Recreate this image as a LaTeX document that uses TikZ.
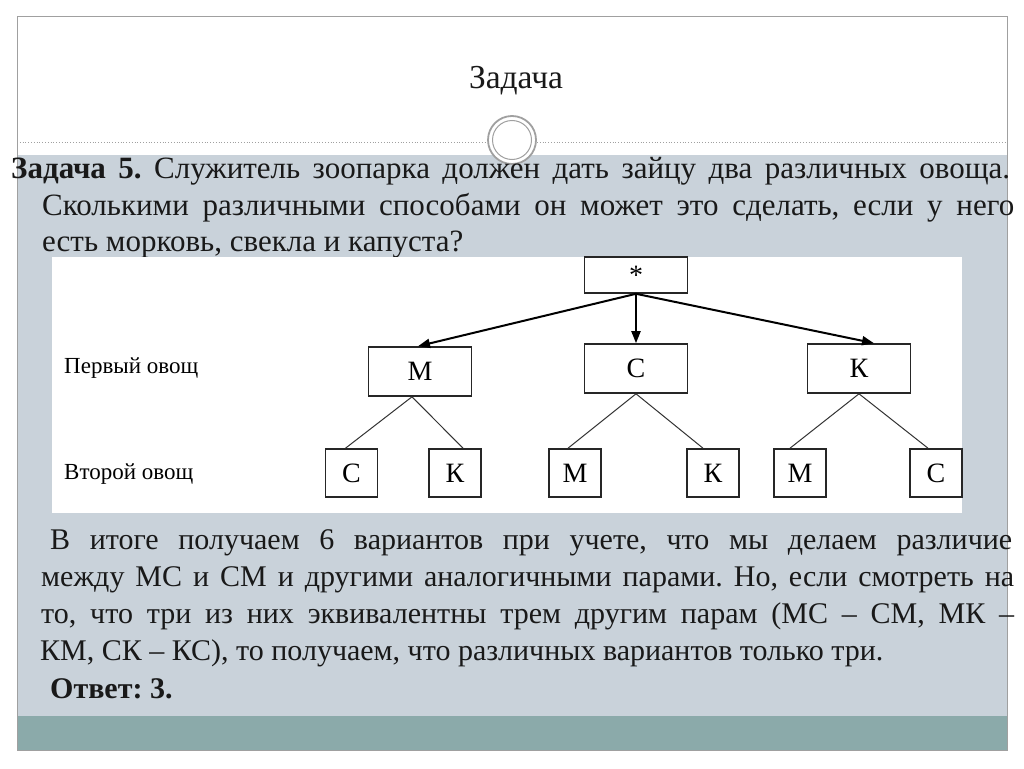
\documentclass[tikz,border=0pt]{standalone}
\usepackage{fontspec}
\setmainfont{Liberation Serif}
\usetikzlibrary{arrows.meta}
\definecolor{bodycol}{RGB}{201,210,218}
\definecolor{bandcol}{RGB}{139,170,170}
\definecolor{framecol}{RGB}{160,160,160}
\definecolor{inkcol}{RGB}{25,25,25}
\frenchspacing
\begin{document}
\frenchspacing
\begin{tikzpicture}[x=1pt,y=-1pt,
  txt/.style={anchor=base west, inner sep=0pt, text=inkcol, font=\fontsize{30}{36}\selectfont\frenchspacing},
  ttxt/.style={txt, font=\fontsize{31}{36}\selectfont\frenchspacing},
  box/.style={draw=black!85, line width=1.6pt, fill=white, minimum width=103pt, minimum height=49pt, font=\fontsize{28}{30}\selectfont, inner sep=0pt},
  sbox/.style={box, minimum width=52pt, minimum height=48pt},
  arr/.style={line width=2pt, -{Triangle[length=12pt,width=9pt]}},
  br/.style={line width=1pt, draw=black!80},
  lbl/.style={anchor=base west, inner sep=0pt, font=\fontsize{23}{26}\selectfont}]
\fill[white] (0,0) rectangle (1024,768);
\useasboundingbox (0,0) rectangle (1024,768);
% slide
\fill[bodycol] (17,155) rectangle (1007,716);
\fill[bandcol] (17,716) rectangle (1007,750);
\draw[framecol, line width=1pt] (17,17) rectangle (1007,750);
\draw[framecol, dotted, line width=0.8pt] (17,142) -- (487,142);
\draw[framecol, dotted, line width=0.8pt] (537,142) -- (1007,142);
\draw[framecol, line width=1.8pt, fill=white] (512,140) circle[radius=24pt];
\draw[framecol, line width=1pt] (512,140) circle[radius=19.5pt];
% title
\node[anchor=base, inner sep=0pt, text=inkcol, font=\fontsize{33.5}{38}\selectfont] (title) at (516,88) {Задача};
% task
\node[ttxt] (t1) at (11,178) {\makebox[999pt][s]{\textbf{Задача 5.} Служитель зоопарка должен дать зайцу два различных овоща.}};
\node[ttxt] (t2) at (42,215) {\makebox[972pt][s]{Сколькими различными способами он может это сделать, если у него}};
\node[ttxt] (t3) at (42,251) {есть морковь, свекла и капуста?};
% diagram
\fill[white] (52,257) rectangle (962,513);
\node[box, minimum height=36pt] (root) at (636,275) {*};
\node[box] (m) at (420,371.5) {М};
\node[box] (c) at (636,368.5) {С};
\node[box] (k) at (859,368.5) {К};
\node[sbox] (c1) at (351.5,473) {С};
\node[sbox] (k1) at (455,473) {К};
\node[sbox] (m2) at (575,473) {М};
\node[sbox] (k2) at (713,473) {К};
\node[sbox] (m3) at (800,473) {М};
\node[sbox] (c3) at (936,473) {С};
\node[lbl] (l1) at (64,373) {Первый овощ};
\node[lbl] (l2) at (64,479) {Второй овощ};
\draw[arr] (root.south) -- ([xshift=-2pt]m.north);
\draw[arr] (root.south) -- (c.north);
\draw[arr] (root.south) -- ([xshift=15pt]k.north);
\draw[br] ([xshift=-8pt]m.south) -- ([xshift=-6pt]c1.north);
\draw[br] ([xshift=-8pt]m.south) -- ([xshift=8pt]k1.north);
\draw[br] (c.south) -- ([xshift=-7pt]m2.north);
\draw[br] (c.south) -- ([xshift=-10pt]k2.north);
\draw[br] (k.south) -- ([xshift=-10pt]m3.north);
\draw[br] (k.south) -- ([xshift=-8pt]c3.north);
% conclusion
\node[txt] (p1) at (50,549) {\makebox[962pt][s]{В итоге получаем 6 вариантов при учете, что мы делаем различие}};
\node[txt] (p2) at (41,586) {\makebox[973pt][s]{между МС и СМ и другими аналогичными парами. Но, если смотреть на}};
\node[txt] (p3) at (41,623) {\makebox[973pt][s]{то, что три из них эквивалентны трем другим парам (МС – СМ, МК –}};
\node[txt] (p4) at (40,660) {КМ, СК – КС), то получаем, что различных вариантов только три.};
\node[txt] (ans) at (50,698) {\textbf{Ответ: 3.}};
\end{tikzpicture}
\end{document}
